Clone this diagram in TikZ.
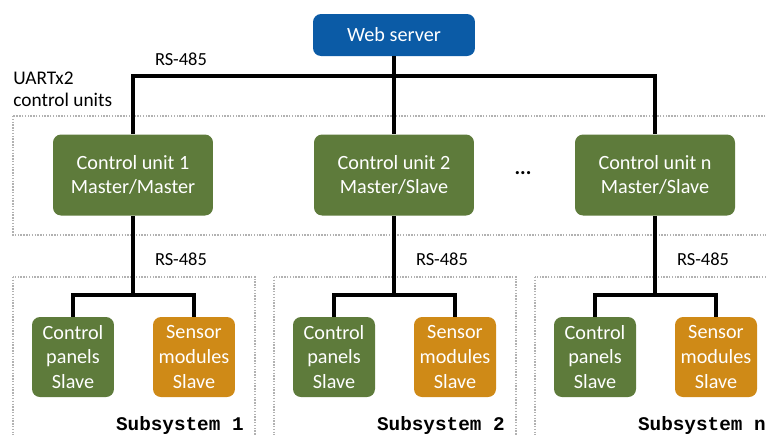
\documentclass[tikz,border=0pt]{standalone}
\usepackage{fontspec}
\setmainfont{Carlito}
\setmonofont{Liberation Mono}
\usepackage{xcolor}
\usetikzlibrary{arrows.meta,positioning}
\definecolor{unitgreen}{HTML}{5E7B3B}
\definecolor{webblue}{HTML}{0B5BA6}
\definecolor{sensorange}{HTML}{CF8A17}
\tikzset{
  box/.style={rounded corners=0.16cm,text=white,align=center,inner sep=0pt,
    font=\fontsize{11.5}{14}\selectfont},
  unitbox/.style={box,fill=unitgreen,minimum width=3.2cm,minimum height=1.62cm},
  slavebox/.style={box,minimum width=1.64cm,minimum height=1.6cm},
  groupbox/.style={draw=gray!60,line width=0.7pt,dash pattern=on 0.8pt off 0.8pt},
  bus/.style={line width=1.8pt},
  lbl/.style={font=\fontsize{10.5}{12.5}\selectfont,inner sep=0pt}
}
\begin{document}
\begin{tikzpicture}[x=0.02cm,y=-0.02cm]
\useasboundingbox (0,0) rectangle (766,434);
%% control units
\draw[groupbox](13,116) rectangle (772,235);
\node[lbl,font=\fontsize{11}{12.5}\selectfont,align=left,anchor=west] (uart) at (13,89) {UARTx2\\control units};
\node[box,fill=webblue,minimum width=3.24cm,minimum height=0.84cm] (web) at (394,35) {Web server};
\node[unitbox] (cu1) at (133,175) {Control unit 1\\Master/Master};
\node[unitbox] (cu2) at (394,175) {Control unit 2\\Master/Slave};
\node[unitbox] (cun) at (655,175) {Control unit n\\Master/Slave};
\node[font=\bfseries\large] (dots) at (523,173) {...};
\coordinate (top) at (394,76);
\node[lbl] (rs0) at (181,59) {RS-485};
\draw[bus](cu1.north)|-(top)-|(cun.north);
\draw[bus](web)--(cu2);
%% subsystems
\foreach \c/\n/\u in {133/1/cu1,394/2/cu2,655/n/cun}{
  \draw[groupbox](\c-120,277) rectangle (\c+122,440);
  \node[slavebox,fill=unitgreen] (cp\n) at (\c-60,357) {Control\\panels\\Slave};
  \node[slavebox,fill=sensorange] (sm\n) at (\c+61,357) {Sensor\\modules\\Slave};
  \coordinate (b\n) at (\c,295);
  \draw[bus](\u)--(b\n);
  \draw[bus](cp\n.north)|-(b\n)-|(sm\n.north);
  \node[lbl] (rs\n) at (\c+48,259) {RS-485};
  \node[anchor=east,inner sep=0pt,font=\ttfamily\bfseries\fontsize{11}{13}\selectfont] (sub\n) at (\c+111,425) {Subsystem \n};
}
\end{tikzpicture}
\end{document}
